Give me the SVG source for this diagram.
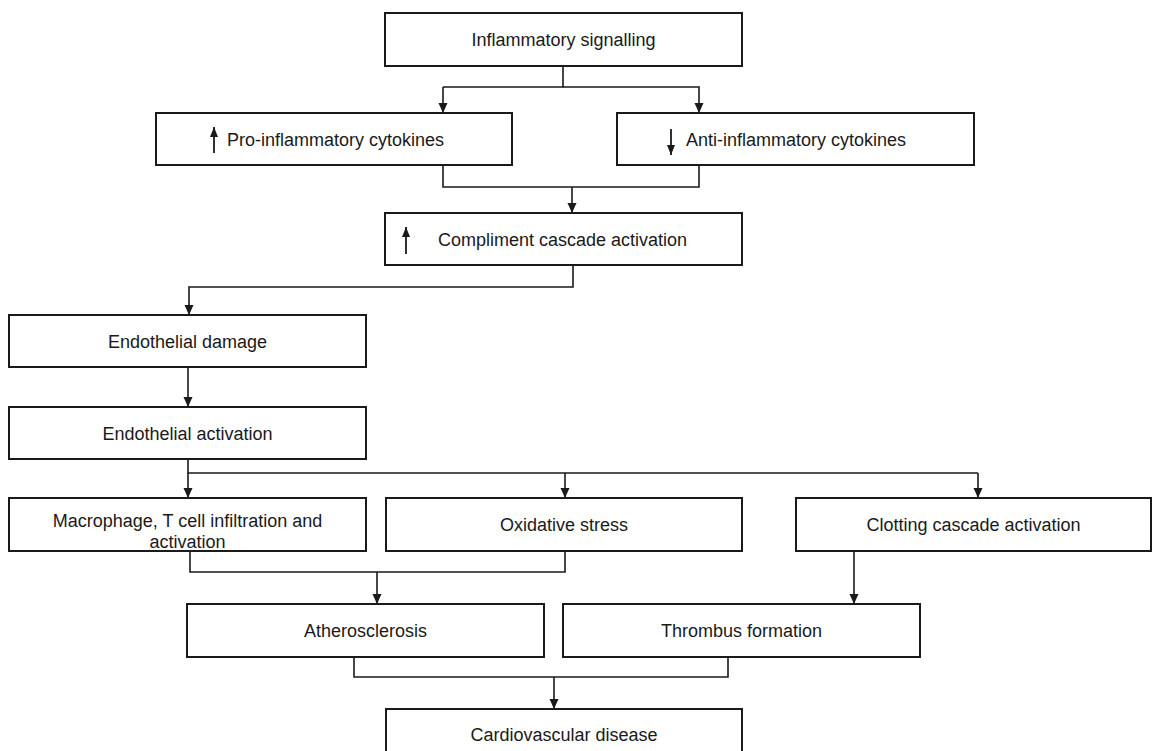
<svg xmlns="http://www.w3.org/2000/svg" width="1152" height="751" viewBox="0 0 1152 751">
<style>
.box{fill:#fff;stroke:#1a1a1a;stroke-width:2}
.lbl{font-family:"Liberation Sans",Arial,sans-serif;font-size:18px;fill:#1a1a1a;text-anchor:middle}
.con{fill:none;stroke:#1a1a1a;stroke-width:1.6}
.arr{marker-end:url(#ah)}
.sym{fill:none;stroke:#1a1a1a;stroke-width:1.8;marker-end:url(#sh)}
</style>
<defs>
<marker id="ah" markerUnits="userSpaceOnUse" markerWidth="10" markerHeight="10" refX="10" refY="5" orient="auto"><path d="M0,0.5 L10,5 L0,9.5 z" fill="#1a1a1a"/></marker>
<marker id="sh" markerUnits="userSpaceOnUse" markerWidth="11" markerHeight="9" refX="10" refY="4.5" orient="auto"><path d="M0,0.5 L10,4.5 L0,8.5 z" fill="#1a1a1a"/></marker>
</defs>
<rect width="1152" height="751" fill="#fff"/>
<g id="connectors">
<path class="con" d="M563,66 V87 H443"/>
<path class="con arr" d="M443,87 V113"/>
<path class="con arr" d="M563,87 H699 V113"/>
<path class="con" d="M443,165 V187 H699 V165"/>
<path class="con arr" d="M572,187 V213"/>
<path class="con arr" d="M573,265 V287 H189 V315"/>
<path class="con arr" d="M188,367 V407"/>
<path class="con" d="M188,459 V473 H978"/>
<path class="con arr" d="M188,473 V498"/>
<path class="con arr" d="M565,473 V498"/>
<path class="con arr" d="M978,473 V498"/>
<path class="con" d="M190,551 V572 H565 V551"/>
<path class="con arr" d="M377,572 V604"/>
<path class="con arr" d="M854,551 V604"/>
<path class="con" d="M354,657 V677 H728 V657"/>
<path class="con arr" d="M554,677 V709"/>
</g>
<g id="n-inflammatory-signalling">
<rect class="box" x="385" y="13" width="357" height="53"/>
<text class="lbl" x="563.5" y="46">Inflammatory signalling</text>
</g>
<g id="n-pro-inflammatory">
<rect class="box" x="156" y="113" width="356" height="52"/>
<line class="sym" x1="214" y1="153" x2="214" y2="127"/>
<text class="lbl" x="335.5" y="146">Pro-inflammatory cytokines</text>
</g>
<g id="n-anti-inflammatory">
<rect class="box" x="617" y="113" width="357" height="52"/>
<line class="sym" x1="671" y1="129" x2="671" y2="155"/>
<text class="lbl" x="796" y="146">Anti-inflammatory cytokines</text>
</g>
<g id="n-compliment">
<rect class="box" x="385" y="213" width="357" height="52"/>
<line class="sym" x1="406" y1="254" x2="406" y2="227"/>
<text class="lbl" x="562.5" y="246">Compliment cascade activation</text>
</g>
<g id="n-endothelial-damage">
<rect class="box" x="9" y="315" width="357" height="52"/>
<text class="lbl" x="187.5" y="348">Endothelial damage</text>
</g>
<g id="n-endothelial-activation">
<rect class="box" x="9" y="407" width="357" height="52"/>
<text class="lbl" x="187.5" y="440">Endothelial activation</text>
</g>
<g id="n-macrophage">
<rect class="box" x="9" y="498" width="357" height="53"/>
<text class="lbl" x="187.5" y="527">Macrophage, T cell infiltration and</text>
<text class="lbl" x="187.5" y="548">activation</text>
</g>
<g id="n-oxidative-stress">
<rect class="box" x="386" y="498" width="356" height="53"/>
<text class="lbl" x="564" y="531">Oxidative stress</text>
</g>
<g id="n-clotting">
<rect class="box" x="796" y="498" width="355" height="53"/>
<text class="lbl" x="973.5" y="531">Clotting cascade activation</text>
</g>
<g id="n-atherosclerosis">
<rect class="box" x="187" y="604" width="357" height="53"/>
<text class="lbl" x="365.5" y="637">Atherosclerosis</text>
</g>
<g id="n-thrombus">
<rect class="box" x="563" y="604" width="357" height="53"/>
<text class="lbl" x="741.5" y="637">Thrombus formation</text>
</g>
<g id="n-cardiovascular">
<rect class="box" x="386" y="709" width="356" height="53"/>
<text class="lbl" x="564" y="741">Cardiovascular disease</text>
</g>
</svg>
